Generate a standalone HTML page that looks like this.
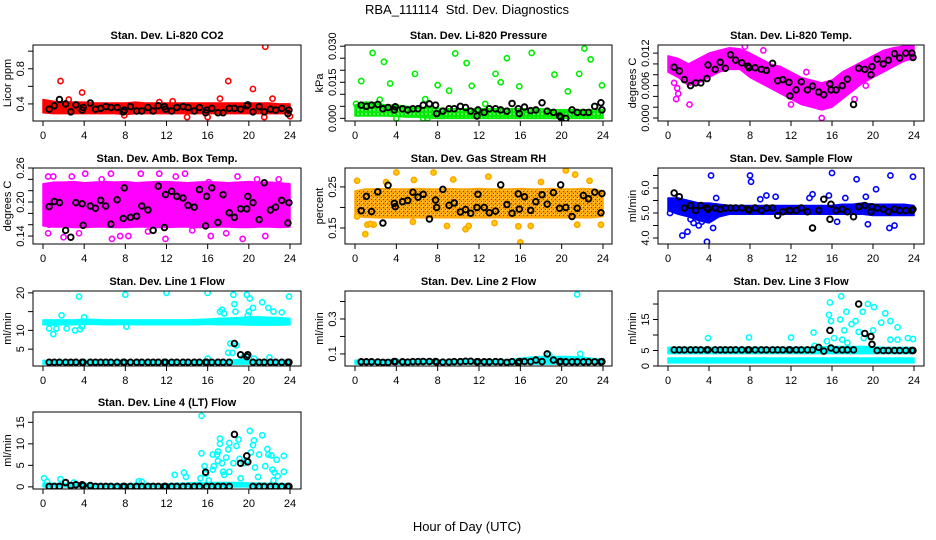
<!DOCTYPE html>
<html><head><meta charset="utf-8"><title>RBA_111114 Std. Dev. Diagnostics</title>
<style>
html,body{margin:0;padding:0;background:#fff;}
svg{display:block;font-family:"Liberation Sans",Arial,sans-serif;}
</style></head>
<body>
<svg id="chart" width="936" height="540" viewBox="0 0 936 540" xmlns="http://www.w3.org/2000/svg">
<text x="467" y="14" font-size="13" text-anchor="middle">RBA_111114 &#160;Std. Dev. Diagnostics</text>
<text x="467" y="531" font-size="13" text-anchor="middle">Hour of Day (UTC)</text>
</svg>
<script>
// ---------- shared data ----------
const hours = [0,1,2,3,4,5,6,7,8,9,10,11,12,13,14,15,16,17,18,19,20,21,22,23,24];
const xTicks = [0,4,8,12,16,20,24];
const blackHours = [0.6,1.1,1.6,2.2,2.7,3.2,3.8,3.9,4.6,5.1,5.6,6.1,6.6,7.2,7.8,7.9,8.5,9.1,9.6,10.2,10.7,11.2,11.8,11.9,12.5,13.0,13.6,14.1,14.7,15.2,15.8,15.9,16.4,17.0,17.5,18.1,18.6,19.2,19.8,19.9,20.4,21.0,21.5,22.1,22.6,23.2,23.8,23.9];

// Panel 1 CO2
const co2BandLo = [0.30,0.29,0.29,0.29,0.29,0.29,0.29,0.29,0.28,0.29,0.29,0.29,0.29,0.29,0.29,0.29,0.29,0.29,0.29,0.29,0.29,0.29,0.29,0.29,0.29];
const co2BandHi = [0.45,0.43,0.42,0.42,0.42,0.41,0.41,0.41,0.41,0.42,0.41,0.41,0.41,0.41,0.41,0.41,0.41,0.41,0.41,0.41,0.41,0.41,0.41,0.40,0.40];
const co2OutX = [1.7,3.8,17.2,18.0,20.4,21.6,22.3,14.0,16.0,21.5,24.0,7.9,2.5,11.3,12.6];
const co2OutY = [0.66,0.53,0.46,0.66,0.57,1.05,0.46,0.25,0.25,0.25,0.26,0.27,0.45,0.42,0.43];
const co2Black = [0.34,0.38,0.45,0.40,0.31,0.39,0.33,0.36,0.41,0.34,0.35,0.37,0.36,0.36,0.31,0.33,0.37,0.32,0.32,0.36,0.32,0.38,0.37,0.34,0.32,0.36,0.37,0.36,0.32,0.36,0.30,0.33,0.35,0.30,0.30,0.35,0.35,0.34,0.38,0.39,0.31,0.37,0.31,0.34,0.33,0.35,0.29,0.33];

// Panel 2 pressure
const prsBandLo = [0.0010,0.0010,0.0010,0.0010,0.0008,0.0005,0.0005,0.0002,0.0000,0.0000,0.0000,0.0000,0.0000,0.0000,0.0000,0.0000,0.0000,0.0000,0.0000,0.0000,0.0000,0.0000,0.0000,0.0000,0.0000];
const prsBandHi = [0.0055,0.0068,0.0065,0.0055,0.0055,0.0050,0.0045,0.0045,0.0042,0.0040,0.0040,0.0040,0.0040,0.0040,0.0040,0.0040,0.0040,0.0040,0.0040,0.0036,0.0036,0.0036,0.0036,0.0036,0.0036];
const prsOutX = [0.6,1.7,2.8,3.4,5.8,6.8,8.0,9.1,9.7,10.8,11.3,12.6,13.6,14.1,14.7,15.9,17.1,19.3,20.6,21.7,22.2,22.8,23.9,4.0,6.6,7.0,0.1,2.4];
const prsOutY = [0.0155,0.0272,0.0235,0.0145,0.0185,0.0080,0.0138,0.0115,0.0270,0.0230,0.0135,0.0060,0.0185,0.0150,0.0250,0.0133,0.0272,0.0182,0.0112,0.0185,0.0290,0.0245,0.0137,0.0000,0.0000,0.0000,0.0060,0.0078];
const prsBlack = [0.0055,0.0050,0.0055,0.0058,0.0040,0.0045,0.0035,0.0048,0.0040,0.0035,0.0040,0.0040,0.0055,0.0060,0.0055,0.0020,0.0030,0.0040,0.0040,0.0050,0.0045,0.0030,0.0010,0.0035,0.0025,0.0040,0.0040,0.0035,0.0030,0.0062,0.0040,0.0020,0.0047,0.0032,0.0035,0.0065,0.0030,0.0025,0.0010,0.0005,0.0000,0.0035,0.0025,0.0025,0.0025,0.0050,0.0065,0.0035];

// Panel 3 Li-820 temp
const tmpBandLo = [0.0085,0.0075,0.0060,0.0065,0.0075,0.0085,0.0090,0.0090,0.0075,0.0065,0.0055,0.0045,0.0035,0.0025,0.0020,0.0015,0.0020,0.0035,0.0050,0.0065,0.0075,0.0085,0.0095,0.0105,0.0110];
const tmpBandHi = [0.0115,0.0110,0.0100,0.0110,0.0120,0.0125,0.0130,0.0128,0.0120,0.0110,0.0100,0.0095,0.0085,0.0075,0.0070,0.0065,0.0070,0.0085,0.0095,0.0105,0.0115,0.0125,0.0130,0.0133,0.0135];
const tmpOutX = [0.8,0.9,1.0,2.1,15.0,15.3,15.6,12.0,18.2,9.3,19.3,0.6,3.2,7.5,13.5];
const tmpOutY = [0.0035,0.0055,0.0045,0.0025,0.0000,0.0025,0.0025,0.0025,0.0035,0.0125,0.0060,0.0065,0.0105,0.0132,0.0085];
const tmpBlack = [0.0094,0.0087,0.0071,0.0060,0.0065,0.0065,0.0073,0.0098,0.0090,0.0103,0.0092,0.0117,0.0107,0.0102,0.0096,0.0093,0.0093,0.0090,0.0088,0.0101,0.0069,0.0071,0.0066,0.0041,0.0052,0.0067,0.0052,0.0059,0.0048,0.0043,0.0063,0.0052,0.0052,0.0060,0.0072,0.0025,0.0092,0.0090,0.0080,0.0095,0.0109,0.0100,0.0107,0.0119,0.0111,0.0120,0.0120,0.0112];

// Panel 4 ambient box temp
const ambBandLo = [0.158,0.156,0.156,0.155,0.155,0.156,0.156,0.155,0.155,0.156,0.156,0.155,0.155,0.156,0.156,0.155,0.155,0.156,0.156,0.155,0.155,0.156,0.156,0.155,0.156];
const ambBandHi = [0.232,0.235,0.235,0.236,0.234,0.235,0.236,0.235,0.236,0.234,0.235,0.236,0.236,0.235,0.234,0.235,0.236,0.235,0.234,0.235,0.236,0.235,0.235,0.234,0.232];
const ambOutX = [0.5,0.5,1.0,2.8,5.7,6.6,6.7,7.5,9.5,11.3,13.8,16.1,16.3,19.4,20.8,21.6,0.6,14.5,11.9,4.1,3.5,8.3,12.9,17.8,22.9,10.2,18.9,2.0];
const ambOutY = [0.245,0.145,0.245,0.245,0.240,0.250,0.135,0.140,0.250,0.250,0.250,0.235,0.140,0.135,0.240,0.140,0.160,0.150,0.135,0.250,0.145,0.140,0.245,0.145,0.240,0.148,0.245,0.138];
const ambBlack = [0.192,0.201,0.199,0.150,0.138,0.199,0.197,0.159,0.193,0.189,0.203,0.193,0.161,0.204,0.171,0.225,0.173,0.175,0.193,0.186,0.150,0.228,0.155,0.213,0.219,0.210,0.207,0.194,0.191,0.222,0.158,0.210,0.225,0.164,0.213,0.181,0.173,0.188,0.188,0.210,0.199,0.169,0.234,0.186,0.191,0.203,0.163,0.199];

// Panel 5 gas stream RH
const rhBandLo = [0.178,0.176,0.175,0.175,0.175,0.175,0.175,0.175,0.175,0.175,0.175,0.175,0.175,0.175,0.175,0.175,0.175,0.175,0.175,0.175,0.175,0.175,0.175,0.175,0.178];
const rhBandHi = [0.240,0.245,0.245,0.246,0.245,0.245,0.246,0.245,0.245,0.246,0.245,0.245,0.246,0.245,0.245,0.245,0.246,0.245,0.245,0.246,0.245,0.245,0.246,0.245,0.240];
const rhOutX = [0.2,0.2,1.0,1.2,1.8,4.0,5.6,5.7,7.6,8.9,10.7,11.0,12.9,15.8,16.0,17.0,20.4,21.3,21.5,22.7,23.8,1.5,3.0,13.5,18.0,9.5];
const rhOutY = [0.265,0.178,0.135,0.158,0.158,0.285,0.165,0.267,0.285,0.155,0.147,0.155,0.275,0.154,0.115,0.155,0.290,0.280,0.158,0.265,0.158,0.160,0.262,0.162,0.262,0.268];
const rhBlack = [0.192,0.227,0.190,0.238,0.162,0.254,0.210,0.202,0.214,0.217,0.237,0.225,0.232,0.172,0.218,0.200,0.244,0.205,0.211,0.189,0.195,0.186,0.200,0.232,0.200,0.187,0.191,0.255,0.207,0.186,0.233,0.196,0.226,0.193,0.214,0.231,0.208,0.236,0.198,0.255,0.200,0.178,0.198,0.229,0.221,0.237,0.187,0.234];

// Panel 6 sample flow
const sfBandLo = [5.10,4.95,4.85,4.70,4.60,4.85,4.95,4.95,4.95,4.95,4.95,4.95,4.95,4.95,4.95,4.95,4.95,4.95,4.95,4.95,4.90,4.90,4.90,4.90,4.90];
const sfBandHi = [5.60,5.60,5.50,5.40,5.40,5.35,5.30,5.30,5.30,5.30,5.30,5.30,5.30,5.30,5.30,5.30,5.30,5.35,5.35,5.40,5.35,5.35,5.35,5.35,5.30];
const sfOutX = [0.2,1.4,1.9,2.5,3.0,3.8,4.2,4.4,4.7,8.0,8.1,9.0,9.6,10.5,13.8,14.1,15.7,16.0,16.5,17.3,18.4,19.3,19.5,20.3,21.6,21.7,22.1,23.9,2.2,3.3];
const sfOutY = [5.00,4.10,4.25,4.60,4.50,3.85,6.50,4.40,5.60,6.50,6.25,5.55,5.70,5.65,5.60,5.75,5.70,6.60,4.65,5.60,6.35,5.65,4.55,5.95,4.40,6.50,4.50,6.45,4.75,4.65];
const sfBlack = [5.80,5.65,5.20,5.30,5.10,5.30,5.20,5.15,5.20,5.15,5.20,5.20,5.20,5.20,5.15,5.10,5.20,5.10,5.20,5.20,4.90,5.05,5.10,5.10,5.10,5.20,5.05,4.40,5.10,5.55,4.75,5.35,5.10,5.15,5.05,4.85,5.25,5.30,5.05,5.25,5.20,5.15,5.05,5.15,5.10,5.10,5.10,5.15];

// Panel 7 line 1 flow
const l1BandALo = [11.5,11.4,11.5,11.5,11.6,11.6,11.5,11.5,11.6,11.5,11.5,11.5,11.5,11.5,11.5,11.5,11.6,11.5,11.5,11.5,11.4,11.4,11.4,11.4,11.5];
const l1BandAHi = [12.8,12.8,12.8,12.8,13.0,12.9,12.8,12.8,12.8,12.8,12.8,12.8,12.8,12.8,12.8,12.9,13.0,13.2,13.3,13.4,13.6,13.6,13.5,13.4,13.2];
const l1BandBLo = [1.0,1.0,1.0,1.0,1.0,1.0,1.0,1.0,1.0,1.0,1.0,1.0,1.0,1.0,1.0,1.0,1.0,1.0,1.0,1.0,1.0,1.0,1.0,1.0,1.0];
const l1BandBHi = [2.0,2.0,2.0,2.0,2.0,2.0,2.0,2.0,2.0,2.0,2.0,2.0,2.0,2.0,2.0,2.0,2.0,2.0,2.0,2.2,2.2,2.0,2.0,2.0,2.0];
const l1OutX = [0.6,1.0,1.3,1.8,2.3,3.1,3.5,3.6,3.8,4.0,8.0,8.1,12.0,16.0,17.4,17.6,18.5,18.6,18.7,19.8,20.1,20.4,21.3,21.9,23.9,18.2,18.4,18.8,19.5,20.5,22.0,16.0,20.0,19.9,23.2,22.4,18.0,17.2];
const l1OutY = [10.5,9.0,10.5,14.0,10.5,10.0,19.0,10.3,11.0,13.5,19.5,11.0,20.0,20.0,15.5,14.5,19.5,17.0,15.0,19.5,18.5,16.0,17.5,16.0,19.0,6.5,4.0,6.0,3.0,2.5,2.8,2.5,15.0,14.0,14.8,15.0,4.0,15.0];
const l1Black = [1.5,1.5,1.5,1.5,1.5,1.5,1.5,1.5,1.5,1.5,1.5,1.5,1.5,1.5,1.5,1.5,1.5,1.5,1.5,1.5,1.5,1.5,1.5,1.5,1.5,1.5,1.5,1.5,1.5,1.5,1.5,1.5,1.5,1.5,1.5,1.5,6.5,3.5,3.0,3.5,1.5,1.5,1.5,1.5,1.5,1.5,1.5,1.5];

// Panel 8 line 2 flow
const l2BandLo = [0.042,0.042,0.042,0.042,0.042,0.042,0.042,0.042,0.042,0.042,0.042,0.042,0.042,0.042,0.042,0.042,0.042,0.042,0.042,0.042,0.042,0.042,0.042,0.042,0.042];
const l2BandHi = [0.064,0.066,0.064,0.065,0.066,0.065,0.064,0.066,0.065,0.064,0.066,0.065,0.064,0.066,0.065,0.068,0.075,0.082,0.085,0.085,0.085,0.085,0.082,0.075,0.068];
const l2OutX = [21.5,18.8,21.8];
const l2OutY = [0.440,0.095,0.100];
const l2Black = [0.055,0.055,0.055,0.054,0.052,0.052,0.057,0.056,0.055,0.053,0.056,0.056,0.057,0.057,0.057,0.054,0.053,0.054,0.056,0.056,0.058,0.058,0.055,0.056,0.055,0.055,0.056,0.055,0.052,0.056,0.050,0.057,0.057,0.056,0.065,0.056,0.100,0.065,0.055,0.057,0.055,0.055,0.055,0.055,0.055,0.055,0.055,0.056];

// Panel 9 line 3 flow
const l3BandALo = [4.0,4.0,4.0,4.0,4.0,4.0,4.0,4.0,4.0,4.0,4.0,4.0,4.0,4.0,4.0,4.0,4.0,4.0,4.0,4.0,4.0,4.0,4.0,4.0,4.0];
const l3BandAHi = [6.0,6.0,6.0,6.0,6.0,6.0,6.0,6.0,6.0,6.0,6.0,6.0,6.0,6.0,6.0,6.2,6.3,6.3,6.3,6.3,6.2,6.0,6.0,6.0,6.0];
const l3BandBLo = [1.0,1.0,1.0,1.0,1.0,1.0,1.0,1.0,1.0,1.0,1.0,1.0,1.0,1.0,1.0,1.0,1.0,1.0,1.0,1.0,1.0,1.0,1.0,1.0,1.0];
const l3BandBHi = [2.6,2.6,2.6,2.6,2.6,2.6,2.6,2.6,2.6,2.6,2.6,2.6,2.6,2.6,2.6,2.6,2.6,2.6,2.6,2.6,2.6,2.6,2.6,2.6,2.6];
const l3OutX = [3.9,7.9,12.0,14.2,15.7,15.8,15.9,16.2,16.8,16.9,17.2,17.4,17.5,17.9,18.3,18.6,19.0,19.1,19.5,20.0,20.1,20.8,21.2,21.7,21.7,22.4,22.4,23.4,23.9,17.0,15.5,14.3];
const l3OutY = [9.0,9.2,9.2,10.8,16.5,20.5,14.5,9.0,15.0,22.5,11.5,17.5,7.5,13.5,14.5,11.0,17.5,9.0,20.0,11.5,19.0,14.0,17.0,14.5,8.5,12.5,8.5,9.0,8.7,8.5,8.0,6.5];
const l3Black = [5.2,5.2,5.2,5.2,5.2,5.2,5.2,5.2,5.2,5.2,5.2,5.2,5.2,5.2,5.2,5.2,5.2,5.2,5.2,5.2,5.2,5.2,5.2,5.2,5.2,5.2,5.2,5.2,6.0,4.8,11.5,5.8,5.2,5.2,5.2,5.2,20.0,10.5,9.5,7.0,5.0,5.0,5.0,5.0,5.0,5.0,5.0,5.0];

// Panel 10 line 4 flow
const l4BandLo = [0.0,0.0,0.0,0.0,0.0,0.0,0.0,0.0,0.0,0.0,0.0,0.0,0.0,0.0,0.0,0.0,0.0,0.0,0.0,0.0,0.0,0.0,0.0,0.0,0.0];
const l4BandHi = [0.9,0.8,0.8,0.9,0.8,0.7,0.7,0.7,0.7,0.8,0.8,0.7,0.7,0.8,0.9,1.0,1.0,1.0,1.0,1.0,0.9,0.9,0.8,0.8,0.7];
const l4OutX = [0.1,0.4,1.7,3.0,9.3,9.6,12.8,13.7,13.9,15.3,15.4,15.4,15.7,15.8,16.1,16.5,16.6,16.9,17.0,17.2,17.2,17.4,17.5,17.8,18.0,18.1,18.1,18.5,18.8,19.0,19.1,19.5,19.8,20.1,20.2,20.4,20.5,20.6,20.9,21.0,21.3,21.6,21.8,21.9,22.2,22.3,22.5,22.7,22.8,23.4,23.4,22.4,16.5,17.0,19.2,17.6];
const l4OutY = [2.0,1.2,1.8,1.0,1.3,1.2,2.8,3.3,2.3,2.0,16.5,7.8,4.8,3.0,1.5,4.0,4.8,7.5,8.2,11.2,10.0,5.5,3.5,6.8,8.7,10.2,3.5,5.5,9.5,11.0,6.5,5.5,6.0,13.0,8.0,9.7,10.8,4.5,2.3,7.5,12.0,4.8,8.8,7.5,7.3,4.0,3.3,6.3,2.5,7.2,3.5,1.5,7.5,6.0,2.0,2.8];
const l4Black = [0.1,0.1,0.1,1.0,0.3,0.5,0.5,0.3,0.3,0.1,0.1,0.1,0.1,0.1,0.1,0.1,0.1,0.1,0.1,0.1,0.1,0.1,0.1,0.1,0.1,0.1,0.1,0.1,0.1,0.1,3.4,0.1,0.1,0.1,0.1,0.1,12.2,5.5,7.2,5.8,0.1,0.1,0.1,0.1,0.1,0.1,0.1,0.1];

// ---------- layout ----------
const svg = document.getElementById('chart');
const NS = 'http://www.w3.org/2000/svg';
function mk(tag, attrs, parent){ const e=document.createElementNS(NS,tag); for(const k in attrs) e.setAttribute(k,attrs[k]); (parent||svg).appendChild(e); return e; }

// patterns to mimic dense overlapping circle clusters
const defs=mk('defs',{});
function ringPattern(id,color,bg){
  const pat=mk('pattern',{id:id,width:4,height:4,patternUnits:'userSpaceOnUse'},defs);
  mk('rect',{width:4,height:4,fill:bg},pat);
  mk('rect',{x:1,y:1,width:2,height:2,fill:'#ffffff',opacity:0.35},pat);
}
ringPattern('rhPattern','#ffa500','#ffa500');
const rhp=document.getElementById('rhPattern');
mk('rect',{x:1,y:1,width:1,height:1,fill:'#ff0000'},rhp);
mk('rect',{x:3,y:3,width:1,height:1,fill:'#ff0000'},rhp);
ringPattern('greenPattern','#00ee00','#00ee00');
const gp=document.getElementById('greenPattern');
mk('rect',{x:0,y:2,width:1,height:1,fill:'#008800',opacity:0.5},gp);

const panels = [
 {key:'co2', title:'Stan. Dev. Li-820 CO2', ylab:'Licor ppm', box:[33,45,301,121], x0:43, x24:290, ymin:0.206, ymax:1.07, ticks:[0.4,0.6,0.8,1.0], labs:['0.4','','0.8',''], color:'#ff0000', bands:[[co2BandLo,co2BandHi]], ox:co2OutX, oy:co2OutY, blk:co2Black},
 {key:'pressure', title:'Stan. Dev. Li-820 Pressure', ylab:'kPa', box:[345,45,612,121], x0:355, x24:603, ymin:-0.0011, ymax:0.0305, ticks:[0,0.005,0.01,0.015,0.02,0.025,0.03], labs:['0.000','','','0.015','','','0.030'], color:'#00ee00', fillp:'url(#greenPattern)', bands:[[prsBandLo,prsBandHi]], ox:prsOutX, oy:prsOutY, blk:prsBlack},
 {key:'li820-temp', title:'Stan. Dev. Li-820 Temp.', ylab:'degrees C', box:[658,45,924,121], x0:668, x24:914, ymin:-0.00055, ymax:0.0135, ticks:[0,0.002,0.004,0.006,0.008,0.01,0.012], labs:['0.000','','','0.006','','','0.012'], color:'#ff00ff', bands:[[tmpBandLo,tmpBandHi]], ox:tmpOutX, oy:tmpOutY, blk:tmpBlack},
 {key:'amb-box-temp', title:'Stan. Dev. Amb. Box Temp.', ylab:'degrees C', box:[33,168,301,244], x0:43, x24:290, ymin:0.126, ymax:0.26, ticks:[0.14,0.16,0.18,0.2,0.22,0.24,0.26], labs:['0.14','','','0.20','','','0.26'], color:'#ff00ff', bands:[[ambBandLo,ambBandHi]], ox:ambOutX, oy:ambOutY, blk:ambBlack},
 {key:'gas-rh', title:'Stan. Dev. Gas Stream RH', ylab:'percent', box:[345,168,612,244], x0:355, x24:603, ymin:0.111, ymax:0.296, ticks:[0.15,0.2,0.25], labs:['0.15','','0.25'], color:'#ffa500', fillp:'url(#rhPattern)', dot:true, bands:[[rhBandLo,rhBandHi]], ox:rhOutX, oy:rhOutY, blk:rhBlack},
 {key:'sample-flow', title:'Stan. Dev. Sample Flow', ylab:'ml/min', box:[658,168,924,244], x0:668, x24:914, ymin:3.76, ymax:6.8, ticks:[4,4.5,5,5.5,6,6.5], labs:['4.0','','5.0','','6.0',''], color:'#0000ff', bands:[[sfBandLo,sfBandHi]], ox:sfOutX, oy:sfOutY, blk:sfBlack},
 {key:'line1-flow', title:'Stan. Dev. Line 1 Flow', ylab:'ml/min', box:[33,291,301,366], x0:43, x24:290, ymin:0.5, ymax:20.5, ticks:[5,10,15,20], labs:['5','10','','20'], color:'#00ffff', bands:[[l1BandALo,l1BandAHi],[l1BandBLo,l1BandBHi]], ox:l1OutX, oy:l1OutY, blk:l1Black},
 {key:'line2-flow', title:'Stan. Dev. Line 2 Flow', ylab:'ml/min', box:[345,291,612,366], x0:355, x24:603, ymin:0.031, ymax:0.46, ticks:[0.1,0.2,0.3,0.4], labs:['0.1','','0.3',''], color:'#00ffff', bands:[[l2BandLo,l2BandHi]], ox:l2OutX, oy:l2OutY, blk:l2Black},
 {key:'line3-flow', title:'Stan. Dev. Line 3 Flow', ylab:'ml/min', box:[658,291,924,366], x0:668, x24:914, ymin:0, ymax:24.2, ticks:[0,5,10,15,20], labs:['0','5','','15',''], color:'#00ffff', bands:[[l3BandALo,l3BandAHi],[l3BandBLo,l3BandBHi]], ox:l3OutX, oy:l3OutY, blk:l3Black},
 {key:'line4-flow', title:'Stan. Dev. Line 4 (LT) Flow', ylab:'ml/min', box:[33,412,301,489], x0:43, x24:290, ymin:-0.5, ymax:17.4, ticks:[0,5,10,15], labs:['0','5','10','15'], color:'#00ffff', bands:[[l4BandLo,l4BandHi]], ox:l4OutX, oy:l4OutY, blk:l4Black}
];

panels.forEach(p=>{
  const [L,T,R,B]=p.box;
  const xs = v => p.x0 + (p.x24-p.x0)*v/24;
  const ys = v => B - (B-T)*(v-p.ymin)/(p.ymax-p.ymin);
  const g = mk('g',{});
  
  
  const clipId='clip-'+p.key;
  const cp=mk('clipPath',{id:clipId},g); mk('rect',{x:L,y:T,width:R-L,height:B-T},cp);
  const plot=mk('g',{'clip-path':'url(#'+clipId+')'},g);
  p.bands.forEach((bd,bi)=>{
    const lo=bd[0], hi=bd[1];
    let pts=hours.map((h,i)=>xs(h)+','+ys(hi[i]));
    pts=pts.concat(hours.slice().reverse().map((h,j)=>{const i=hours.length-1-j; return xs(h)+','+ys(lo[i]);}));
    const poly=mk('polygon',{points:pts.join(' '),fill:p.fillp||p.color,stroke:p.color,'stroke-width':1.5,'stroke-linejoin':'round'},plot);
    
    
  });
  p.ox.forEach((x,i)=>{
    const c=mk('circle',{cx:xs(x),cy:ys(p.oy[i]),r:2.6,fill:p.dot?'#ffd000':'none',stroke:p.color,'stroke-width':1.6},plot);
    
    
  });
  blackHours.forEach((x,i)=>{
    const c=mk('circle',{cx:xs(x),cy:ys(p.blk[i]),r:2.8,fill:'none',stroke:'#000','stroke-width':1.9},plot);
    
    
  });
  const box=mk('rect',{x:L,y:T,width:R-L,height:B-T,fill:'none',stroke:'#000','stroke-width':1},g);
  
  
  const t=mk('text',{x:(L+R)/2,y:T-6,'font-size':11,'font-weight':'bold','text-anchor':'middle'},g);
  t.textContent=p.title;
  
  
  mk('line',{x1:xs(0),x2:xs(24),y1:B,y2:B,stroke:'#000'},g);
  xTicks.forEach(v=>{
    mk('line',{x1:xs(v),x2:xs(v),y1:B,y2:B+5,stroke:'#000'},g);
    const tl=mk('text',{x:xs(v),y:B+18,'font-size':11,'text-anchor':'middle'},g);
    tl.textContent=String(v);
    
    
  });
  const tv=p.ticks;
  mk('line',{x1:L,x2:L,y1:ys(tv[0]),y2:ys(tv[tv.length-1]),stroke:'#000'},g);
  tv.forEach((v,i)=>{
    const y=ys(v);
    mk('line',{x1:L-5,x2:L,y1:y,y2:y,stroke:'#000'},g);
    if(p.labs[i]){
      const tl=mk('text',{x:L-9,y:y,'font-size':11,'text-anchor':'middle',transform:'rotate(-90 '+(L-9)+' '+y+')'},g);
      tl.textContent=p.labs[i];
      
      
    }
  });
  const yl=mk('text',{x:L-22,y:(T+B)/2,'font-size':11,'text-anchor':'middle',transform:'rotate(-90 '+(L-22)+' '+((T+B)/2)+')'},g);
  yl.textContent=p.ylab;
  
  
});
</script>
</body></html>
